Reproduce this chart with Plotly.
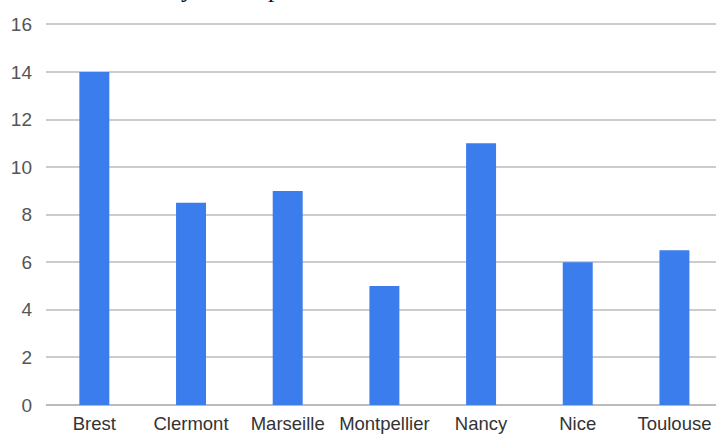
import plotly.graph_objects as go

# Cities and their values
cities = ["Brest", "Clermont", "Marseille", "Montpellier", "Nancy", "Nice", "Toulouse"]
values = [14, 8.5, 9, 5, 11, 6, 6.5]
y_ticks = [0, 2, 4, 6, 8, 10, 12, 14, 16]

fig = go.Figure(
    go.Bar(
        x=cities,
        y=values,
        marker=dict(color="#3b7ded", line=dict(width=0)),
    )
)

fig.update_layout(
    width=716,
    height=434,
    margin=dict(l=46, r=0, t=22, b=29),
    paper_bgcolor="white",
    plot_bgcolor="white",
    bargap=0.69,
    showlegend=False,
    font=dict(family="Liberation Sans, Arial, sans-serif"),
)

fig.update_xaxes(
    range=[-0.5, 6.43],
    automargin=False,
    showgrid=False,
    showline=False,
    zeroline=False,
    ticks="",
    tickfont=dict(size=18.5, color="#333333"),
    ticklabelstandoff=5,
)

fig.update_yaxes(
    range=[0, 16.1],
    automargin=False,
    tickvals=y_ticks,
    showgrid=True,
    gridcolor="#cccccc",
    gridwidth=1.5,
    zeroline=True,
    zerolinecolor="#bbbbbb",
    zerolinewidth=1.5,
    showline=False,
    ticks="",
    tickfont=dict(size=19, color="#555555"),
    ticklabelstandoff=13,
)

# Title line above the plot, mostly outside the page (only the descenders show)
for ch, xp in [("y", 187), ("p", 274)]:
    fig.add_annotation(
        text=ch,
        xref="paper",
        yref="paper",
        x=(xp - 46) / 670,
        y=1,
        yshift=34,
        xanchor="center",
        yanchor="middle",
        showarrow=False,
        font=dict(family="Liberation Serif, serif", size=26, color="#111111"),
    )

fig.write_html("out.html")
